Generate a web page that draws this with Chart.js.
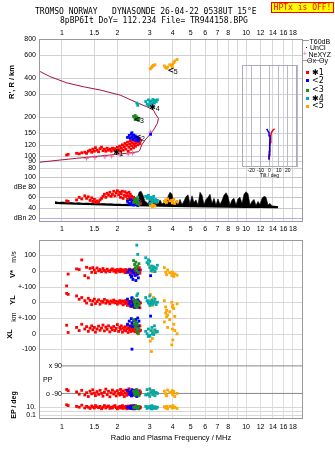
<!DOCTYPE html>
<html>
<head>
<meta charset="utf-8">
<title>Tromso dynasonde ionogram</title>
<script src="https://cdn.jsdelivr.net/npm/chart.js@4.4.1/dist/chart.umd.min.js"></script>
<style>
  body { margin: 0; background: #fff; }
  #wrap { position: relative; width: 335px; height: 451px; overflow: hidden; background: #fff;
          font-family: "Liberation Sans", Arial, sans-serif; color: #000; }
  #wrap canvas { position: absolute; }
  .t { position: absolute; white-space: pre; line-height: 1; font-size: 7px; }
  .mono { font-family: "DejaVu Sans Mono", monospace; font-size: 8px; }
  .rot { transform: translate(-50%, -50%) rotate(-90deg); }
  .b { font-weight: bold; }
  .lg { font-size: 8px; font-family: "DejaVu Sans", sans-serif; }
  .sq { position: absolute; width: 3px; height: 3px; }
  .ln { position: absolute; height: 1px; }
  #hptx { position: absolute; left: 271px; top: 2px; width: 61px; height: 9px; border: 1px solid #f00;
          background: #ff0; color: #f00; font-family: "DejaVu Sans Mono", monospace; font-size: 8px;
          line-height: 9px; text-align: center; }
</style>
</head>
<body>
<div id="wrap">
  <canvas id="top" width="335" height="236" style="left:0;top:0"></canvas>
  <canvas id="tilt" width="71" height="120" style="left:232px;top:60px"></canvas>
  <canvas id="low" width="335" height="215" style="left:0;top:236px"></canvas>

  <div class="t mono" style="left:35px;top:8px">TROMSO NORWAY   DYNASONDE 26-04-22 0538UT 15°E</div>
  <div class="t mono" style="left:60px;top:16.5px">8pBP6It DoY= 112.234 File= TR944158.BPG</div>
  <div id="hptx">HPTx is OFF!</div>

  <div class="t b rot" style="left:12px;top:82px;font-size:7.5px">R', R / km</div>

  <!-- legend -->
  <div class="ln" style="left:303px;top:40px;width:6px;background:#999"></div>
  <div class="t" style="left:309.5px;top:37.5px">T60dB</div>
  <div class="sq" style="left:306px;top:47px;width:1px;height:1px;background:#000"></div>
  <div class="t" style="left:310px;top:44px">UnCl</div>
  <div class="t" style="left:302.5px;top:50px;color:#ff60a0;font-size:8px">+</div>
  <div class="t" style="left:308.5px;top:50.5px">NeXYZ</div>
  <div class="ln" style="left:303px;top:60px;width:4px;background:#f08080"></div>
  <div class="t" style="left:307px;top:57px">Θx</div>
  <div class="ln" style="left:315px;top:60px;width:4px;background:#8080f0"></div>
  <div class="t" style="left:319px;top:57px">Θy</div>
  <div class="sq" style="left:306px;top:71px;background:#f00"></div>
  <div class="t lg" style="left:312px;top:68.5px">✱1</div>
  <div class="sq" style="left:306px;top:79px;background:#00f"></div>
  <div class="t lg" style="left:312px;top:77px">&lt;2</div>
  <div class="sq" style="left:306px;top:88.5px;background:#1e8c1e"></div>
  <div class="t lg" style="left:312px;top:86px">&lt;3</div>
  <div class="sq" style="left:306px;top:97px;background:#00aaaa"></div>
  <div class="t lg" style="left:312px;top:94.5px">✱4</div>
  <div class="sq" style="left:306px;top:104.5px;background:#ffa500"></div>
  <div class="t lg" style="left:312px;top:102px">&lt;5</div>

  <!-- lower panel titles -->
  <div class="t rot" style="left:13px;top:257px">m/s</div>
  <div class="t b rot" style="left:13px;top:274px;font-size:7.5px">V*</div>
  <div class="t b rot" style="left:13px;top:300px;font-size:7.5px">YL</div>
  <div class="t rot" style="left:13px;top:317px">km</div>
  <div class="t b rot" style="left:10px;top:334px;font-size:7.5px">XL</div>
  <div class="t b rot" style="left:13px;top:405px">EP / deg</div>
  <div class="t" style="right:273px;top:361.6px">x 90</div>
  <div class="t" style="left:43px;top:375.6px">PP</div>
  <div class="t" style="right:273px;top:389.6px">o -90</div>
</div>

<script>
// frequency axis (MHz)
const fMin = 0.75, fMax = 20.4;
const freqTicks = [1, 1.5, 2, 3, 4, 5, 6, 7, 8, 9, 10, 12, 14, 16, 18];

// virtual height axis (km) and amplitude axis (dB)
const rTicks = [80, 90, 100, 120, 150, 200, 300, 400, 600, 800];
const dbTicks = [20, 40, 60, 80, 100];
const dbTickText = ['dBn 20', '40', '60', 'dBe 80', '100'];

// lower panel ticks
const vTicks = [-100, 0, 100], vTickText = ['+-100', '0', '100'];
const ylTicks = [-100, 0], ylTickText = ['+-100', '0'];
const xlTicks = [-100, 0], xlTickText = ['-100', '0'];
const epTicks = [0.1, 5, 10], epTickText = ['0.1', '', '10.'];
const ppLevels = [90, -90];
const tiltTicks = [-30, -20, -10, 0, 10, 20, 30];

// echo 1 (red)
const f1 = [
  1.06, 1.08, 1.20, 1.24, 1.28, 1.33, 1.36, 1.39, 1.42, 1.45,
  1.47, 1.50, 1.52, 1.55, 1.58, 1.61, 1.64, 1.67, 1.70, 1.73,
  1.76, 1.79, 1.82, 1.85, 1.88, 1.91, 1.94, 1.97, 2.00, 2.03,
  2.06, 2.08, 2.10, 2.13, 2.15, 2.18, 2.20, 2.22, 2.25, 2.27,
  2.29, 2.31, 2.33, 2.35, 2.37, 2.39, 2.41, 2.43, 2.45, 2.47,
  2.49, 2.51, 2.53, 2.55, 2.57, 2.59, 2.61, 2.63, 2.65, 2.67];
const h1 = [
  101, 102, 104, 103, 105, 106, 104, 108, 110, 106,
  112, 108, 115, 110, 107, 113, 116, 109, 112, 108,
  114, 110, 112, 108, 114, 110, 113, 109, 116, 111,
  118, 108, 114, 121, 110, 117, 124, 112, 120, 127,
  108, 116, 123, 130, 112, 119, 126, 133, 115, 122,
  129, 118, 125, 132, 138, 121, 128, 135, 124, 131];
const amp1 = [
  53, 52, 55, 60, 57, 63, 58, 61, 54, 59,
  52, 56, 50, 53, 51, 55, 58, 62, 66, 60,
  68, 64, 70, 62, 66, 72, 63, 69, 73, 65,
  70, 60, 67, 72, 58, 64, 71, 62, 68, 56,
  63, 70, 60, 66, 55, 62, 58, 52, 60, 55,
  50, 57, 53, 49, 56, 51, 54, 50, 52, 48];
const vs1 = [
  -96, -21, 12, 8, 69, -31, 22, -45, 15, -10,
  20, 5, -12, 18, 0, 8, -6, 14, 2, -8,
  10, 0, -5, 6, 12, -3, 4, -10, 8, 0,
  -6, 10, 2, -4, 6, 0, -12, 8, 2, -6,
  4, -2, 10, -8, 0, 6, -14, -4, 2, 8,
  -20, -10, 4, -25, 0, 14, -8, 20, -15, 5];
const yl1 = [
  56, 50, 40, 19, 30, 10, -5, 25, 12, -15,
  8, 20, -8, 4, 15, -12, 6, 0, 18, -6,
  10, 2, -10, 8, 0, 14, -4, 6, -12, 2,
  10, -6, 0, 8, -16, 4, -8, 12, -2, -20,
  6, -10, 0, -24, 4, -14, 8, -28, -6, 2,
  -18, 10, -30, -8, 0, -22, 6, -12, -35, -4];
const xl1 = [
  54, 8, 40, 20, 60, 30, 45, 15, 35, 50,
  25, 40, 10, 30, 48, 22, 36, 55, 18, 42,
  28, 50, 12, 38, 25, 46, 20, 34, 58, 15,
  40, 28, 50, 10, 36, 24, 44, 18, 32, 52,
  8, 38, 26, 46, 14, 34, 56, 20, 40, 30,
  12, 48, 24, 36, 6, 44, 28, 16, 50, 22];
const pp1 = [
  -64, -72, -80, -95, -70, -100, -85, -110, -75, -92,
  -66, -88, -104, -78, -96, -70, -90, -108, -82, -62,
  -98, -76, -112, -86, -68, -94, -80, -106, -72, -90,
  -100, -64, -84, -96, -74, -110, -88, -68, -102, -80,
  -92, -60, -86, -98, -74, -106, -82, -94, -70, -100,
  -88, -76, -104, -66, -92, -84, -98, -72, -90, -80];
const ep1 = [
  13, 12, 11, 10, 12.5, 9, 11, 10, 8.5, 11.5,
  10, 9, 12, 10.5, 9.5, 11, 8, 10, 12, 9,
  10.5, 11.5, 8.5, 10, 9, 11, 12, 9.5, 8, 10,
  11, 9, 10.5, 12, 8.5, 10, 9.5, 11, 8, 10,
  11.5, 9, 10, 8.5, 12, 9.5, 10.5, 8, 11, 9,
  10, 12, 8.5, 10, 9.5, 11, 8, 10.5, 9, 10];

// echo 2 (blue)
const f2 = [2.27, 2.32, 2.35, 2.38, 2.40, 2.43, 2.45, 2.48, 2.50, 2.52, 2.55, 2.58, 2.60, 2.62, 2.40, 3.03];
const h2 = [138, 143, 136, 147, 140, 133, 144, 137, 142, 131, 139, 134, 130, 136, 150, 146];
const amp2 = [52, 48, 55, 46, 50, 53, 45, 49, 56, 47, 51, 44, 48, 52, 46, 46];
const vs2 = [-10, 5, -25, -40, 0, -55, -15, 8, -30, -62, -5, -20, -45, 2, -35, -31];
const yl2 = [20, -10, 5, -25, 29, -15, 0, -33, 10, -5, -20, 15, -30, 0, 24, -12];
const xl2 = [60, 80, 50, 96, 70, 45, 85, 55, 75, 90, 65, 100, 50, 80, -98, 112];
const pp2 = [-70, -95, -80, -105, -65, -88, -100, -75, -92, -68, -110, -85, -78, -96, -82, -90];
const ep2 = [10, 9, 11, 8.5, 10.5, 9.5, 12, 8, 10, 11, 9, 10.5, 8.5, 10, 9.5, 10];

// echo 3 (green)
const f3 = [2.45, 2.48, 2.50, 2.52, 2.55, 2.57, 2.60, 2.62, 2.50];
const h3 = [201, 198, 204, 195, 199, 192, 188, 194, 190];
const amp3 = [50, 54, 57, 52, 48, 55, 50, 46, 53];
const vs3 = [65, 40, 20, 55, 0, 30, -10, 45, 10];
const yl3 = [19, 0, -15, 10, -33, 5, -20, -5, -25];
const xl3 = [90, 60, 40, 75, 15, 55, 0, 30, 70];
const pp3 = [-75, -90, -100, -82, -70, -95, -85, -105, -88];
const ep3 = [10, 9, 11, 10.5, 9.5, 10, 8.5, 11, 10];

// echo 4 (cyan)
const f4 = [2.55, 2.58, 2.85, 2.90, 2.95, 3.00, 3.05, 3.08, 3.12, 3.15, 3.20, 3.25, 3.30, 3.00, 2.95, 3.10, 3.18];
const h4 = [255, 245, 262, 250, 270, 258, 265, 252, 272, 260, 268, 262, 270, 246, 244, 240, 255];
const amp4 = [55, 60, 62, 58, 64, 56, 60, 52, 58, 62, 55, 50, 54, 48, 60, 57, 52];
const vs4 = [163, 104, 83, 52, 41, 20, 0, 30, 10, 25, -5, 15, 35, 60, 70, 5, 20];
const yl4 = [42, 54, 30, 10, -5, -20, 0, 15, -10, 5, 20, -15, 0, 40, 8, -12, 2];
const xl4 = [58, 30, 15, 0, -17, -10, 20, 40, 5, -5, 25, 10, 14, -15, 30, 0, 50];
const pp4 = [-70, -80, -100, -65, -92, -110, -78, -88, -96, -72, -105, -84, -90, -60, -98, -76, -86];
const ep4 = [10, 9, 11, 8.5, 10.5, 9.5, 8, 12, 10, 9, 10.5, 8.5, 10, 11, 9.5, 8, 10];

// echo 5 (orange)
const f5 = [3.02, 3.06, 3.10, 3.14, 3.20, 3.60, 3.66, 3.70, 3.75, 3.95, 4.00, 4.05, 4.10, 4.22, 3.85, 3.98];
const h5 = [470, 480, 490, 500, 505, 495, 480, 475, 485, 500, 510, 525, 540, 555, 505, 480];
const amp5 = [44, 46, 42, 45, 43, 52, 55, 50, 57, 54, 50, 56, 48, 52, 53, 49];
const vs5 = [30, 10, -5, 20, 0, 20, -10, -25, 5, -30, -15, -36, -20, -28, -12, -8];
const yl5 = [50, 10, -20, 30, -5, 10, -30, -52, -81, 0, -20, -40, -90, -10, -60, -30];
const xl5 = [-47, -113, -30, 20, 10, 75, 131, 108, 40, -71, -40, 60, 20, 0, 90, 30];
const pp5 = [-80, -95, -70, -100, -88, -75, -92, -105, -68, -85, -98, -78, -110, -90, -82, -72];
const ep5 = [10, 9, 11, 10, 8.5, 10.5, 9, 11, 8, 10, 12, 9.5, 10, 8.5, 11, 9];

// model profile (plasma frequency vs real height)
const profF = [0.75, 0.975, 1.20, 1.48, 1.82, 2.25, 2.60, 2.65, 2.71, 2.83, 3.01, 3.14, 3.30, 3.34, 3.22, 3.14, 2.89, 2.60, 2.07, 1.61, 1.31, 1.06, 0.86, 0.75];
const profH = [88.6, 92.2, 95.1, 97.9, 100.9, 104, 107, 110.3, 120.6, 131.9, 145.9, 157.6, 177.8, 194, 210, 225, 239, 254, 294, 322, 341, 366, 409, 452];
const neF = [1.36, 1.51, 1.71, 1.86, 2.07, 2.29, 2.42, 3.03];
const neH = [95, 96.6, 97.9, 98.9, 100.9, 102.8, 104, 152];

// layer markers
const markF = [1.98, 2.59, 2.56, 3.11, 3.90];
const markH = [104, 136, 188, 234.6, 452];
const markSym = ['✱', '<', '<', '✱', '<'];
const markNum = ['1', '2', '3', '4', '5'];

// amplitude of all returns (upper envelope) and noise floor
const noiseF = [
  0.916, 0.963, 1.013, 1.065, 1.119, 1.177, 1.237, 1.300, 1.367, 1.437,
  1.511, 1.588, 1.670, 1.756, 1.846, 1.941, 2.040, 2.145, 2.255, 2.371,
  2.431, 2.493, 2.557, 2.621, 2.688, 2.756, 2.826, 2.898,
  2.934, 3.008, 3.084, 3.162, 3.243, 3.325, 3.409, 3.495, 3.584, 3.675,
  3.768, 3.863, 3.961, 4.061, 4.164, 4.270, 4.378, 4.489, 4.602, 4.719,
  4.838, 4.961, 5.087, 5.216, 5.348, 5.483, 5.623, 5.765, 5.911, 6.061,
  6.214, 6.372, 6.533, 6.699, 6.868, 7.042, 7.221, 7.404, 7.591, 7.783,
  7.980, 8.183, 8.390, 8.602, 8.820, 9.043, 9.272, 9.512, 9.753, 10.0,
  10.25, 10.51, 10.78, 11.05, 11.33, 11.62, 11.91, 12.22, 12.53, 12.84,
  13.17, 13.50, 13.85, 14.20, 14.56, 14.93];
const noiseTop = [
  52, 50, 51, 49, 50, 48.5, 49.5, 48, 49, 48,
  48.5, 47, 48, 47, 47.5, 46.5, 47, 46, 47, 49,
  54, 60, 56, 70, 72, 64, 52, 50,
  48, 56, 46, 53, 58, 46, 55, 47, 50, 45,
  62, 70, 66, 47, 52, 45, 56, 46, 53, 61,
  65, 47, 63, 50, 55, 45, 70, 64, 46, 56,
  60, 66, 48, 58, 45, 57, 46, 54, 64, 69,
  62, 45, 55, 58, 45, 57, 60, 48, 66, 71,
  67, 45, 52, 56, 44, 52, 46, 58, 62, 60,
  45, 48, 43, 43, 42, 41.5];
const noiseBaseF = [0.916, 1.2, 1.5, 2.0, 2.5, 3.0, 4.0, 5.0, 6.5, 8.0, 10.0, 12.0, 14.93];
const noiseBase = [49, 47.5, 46.5, 45, 44.5, 44, 43, 42.5, 42, 41.5, 41, 41, 40.5];

// tilt inset
const tiltH = [93, 100, 108, 117, 126, 135, 142, 150, 156, 161];
const tiltX = [-0.8, -0.6, -0.3, 0.2, 0.8, 1.3, 1.5, 2.0, 3.5, 5.5];
const tiltY = [-0.6, -0.3, 0.0, 0.2, 0.5, 0.6, 0.4, -0.5, -2.0, -3.0];

const layers = [
  { f: f1, h: h1, amp: amp1, vs: vs1, yl: yl1, xl: xl1, pp: pp1, ep: ep1, color: '#ff0000', order: 4 },
  { f: f2, h: h2, amp: amp2, vs: vs2, yl: yl2, xl: xl2, pp: pp2, ep: ep2, color: '#0000ff', order: 3 },
  { f: f3, h: h3, amp: amp3, vs: vs3, yl: yl3, xl: xl3, pp: pp3, ep: ep3, color: '#1e8c1e', order: 2 },
  { f: f4, h: h4, amp: amp4, vs: vs4, yl: yl4, xl: xl4, pp: pp4, ep: ep4, color: '#00aaaa', order: 2 },
  { f: f5, h: h5, amp: amp5, vs: vs5, yl: yl5, xl: xl5, pp: pp5, ep: ep5, color: '#ffa500', order: 2 }
];

const FAM = '"Liberation Sans", Arial, sans-serif';
const font7 = { family: FAM, size: 7 };

function pts(xs, ys) { return xs.map((x, i) => ({ x: x, y: ys[i] })); }
function fixTicks(vals) { return s => { s.ticks = vals.map(v => ({ value: v })); }; }

function dots(xs, ys, color, yAxisID, order) {
  return { data: pts(xs, ys), yAxisID: yAxisID, showLine: false, pointStyle: 'rect', pointRadius: 2,
           pointBorderWidth: 0, pointBackgroundColor: color, borderColor: color, order: order };
}

function hiddenY(type, min, max) {
  return { type: type, axis: 'y', position: 'left', display: false, min: min, max: max };
}

function xScale(position, height, pad, showNine, grid) {
  return {
    type: 'logarithmic', axis: 'x', position: position, min: fMin, max: fMax,
    afterBuildTicks: fixTicks(freqTicks),
    afterFit: s => { s.height = height; },
    ticks: { callback: v => (v === 9 && !showNine) ? '' : String(v), font: font7, color: '#000',
             padding: pad, autoSkip: false, maxRotation: 0, minRotation: 0 },
    grid: grid ? { color: grid, drawTicks: false } : { display: false, drawTicks: false },
    border: { display: false }
  };
}

// y gridlines and tick labels, drawn through each (hidden) y scale
function yTicksPlugin(axes) {
  return {
    id: 'yticks',
    beforeDatasetsDraw(chart) {
      const a = chart.chartArea, c = chart.ctx;
      c.save();
      c.font = '7px ' + FAM;
      c.textAlign = 'right';
      c.textBaseline = 'middle';
      c.fillStyle = '#000';
      c.lineWidth = 1;
      axes.forEach(ax => {
        const s = chart.scales[ax.id];
        ax.vals.forEach((v, i) => {
          const py = Math.round(s.getPixelForValue(v)) + 0.5;
          c.strokeStyle = (ax.blue === v) ? '#b0b0e8' : ax.grid;
          c.beginPath();
          c.moveTo(a.left, py);
          c.lineTo(a.right, py);
          c.stroke();
          if (ax.txt[i]) c.fillText(ax.txt[i], a.left - 3, py);
        });
      });
      c.restore();
    }
  };
}

const framePlugin = {
  id: 'frame',
  afterDatasetsDraw(chart, args, opts) {
    const a = chart.chartArea, c = chart.ctx;
    c.save();
    c.strokeStyle = opts.color || '#999';
    c.lineWidth = 1;
    c.strokeRect(a.left + 0.5, a.top + 0.5, a.right - a.left - 1, a.bottom - a.top - 1);
    c.restore();
  }
};

const markPlugin = {
  id: 'marks',
  afterDatasetsDraw(chart) {
    const xs = chart.scales.x, ys = chart.scales.yr, c = chart.ctx;
    c.save();
    c.fillStyle = '#000';
    c.textBaseline = 'middle';
    markF.forEach((f, i) => {
      const px = xs.getPixelForValue(f), py = ys.getPixelForValue(markH[i]);
      c.font = 'bold 8px "DejaVu Sans"';
      c.textAlign = 'center';
      c.fillText(markSym[i], px, py);
      c.font = '7px ' + FAM;
      c.textAlign = 'left';
      c.fillText(markNum[i], px + 3, py + 1);
    });
    c.restore();
  }
};

// ---------- upper chart: virtual height + amplitude ----------
const topSets = [];
layers.forEach(L => {
  topSets.push(dots(L.f, L.h, L.color, 'yr', L.order));
  topSets.push(dots(L.f, L.amp, L.color, 'ydb', L.order));
});
topSets.push({ data: pts(neF, neH), yAxisID: 'yr', showLine: false, pointStyle: 'cross', pointRadius: 2.2,
               pointBorderColor: '#ff60a0', pointBorderWidth: 1, order: 5 });
topSets.push({ data: pts(profF, profH), yAxisID: 'yr', borderColor: '#a3143f', borderWidth: 1,
               pointRadius: 0, tension: 0, order: 6 });
topSets.push({ data: pts(noiseBaseF, noiseBase), yAxisID: 'ydb', borderColor: '#000', borderWidth: 2,
               pointRadius: 0, tension: 0, order: 8 });
topSets.push({ data: pts(noiseF, noiseTop), yAxisID: 'ydb', borderColor: '#000', borderWidth: 0.6,
               backgroundColor: '#000', fill: '-1', pointRadius: 0, tension: 0, order: 9 });

new Chart(document.getElementById('top'), {
  type: 'line',
  data: { datasets: topSets },
  options: {
    responsive: false, animation: false, events: [],
    layout: { padding: { left: 39, right: 32, top: 0, bottom: 0 } },
    plugins: { legend: { display: false }, tooltip: { enabled: false }, frame: { color: '#999' } },
    scales: {
      x: xScale('top', 39, 2, false, null),
      x2: xScale('bottom', 14, 3.3, true, '#d6d6d6'),
      yr: hiddenY('logarithmic', 30.52, 800),
      ydb: hiddenY('linear', 11.55, 371.3)
    }
  },
  plugins: [
    yTicksPlugin([
      { id: 'yr', vals: rTicks, txt: rTicks.map(String), grid: '#d0d0d0' },
      { id: 'ydb', vals: dbTicks, txt: dbTickText, grid: '#c8c8c8', blue: 20 }
    ]),
    framePlugin, markPlugin
  ]
});

// ---------- tilt inset ----------
new Chart(document.getElementById('tilt'), {
  type: 'line',
  data: {
    datasets: [
      { data: pts(tiltY, tiltH), borderColor: '#0000ff', borderWidth: 1.5, pointRadius: 0, tension: 0, order: 1 },
      { data: pts(tiltX, tiltH), borderColor: '#ff0000', borderWidth: 1.5, pointRadius: 0, tension: 0, order: 2 }
    ]
  },
  options: {
    responsive: false, animation: false, events: [],
    layout: { padding: { left: 10, right: 6, top: 5, bottom: 0 } },
    plugins: { legend: { display: false }, tooltip: { enabled: false }, frame: { color: '#aab' } },
    scales: {
      x: {
        type: 'linear', position: 'bottom', min: -30, max: 30,
        afterBuildTicks: fixTicks(tiltTicks),
        afterFit: s => { s.height = 13; },
        ticks: { callback: v => Math.abs(v) === 30 ? '' : String(v), font: { family: FAM, size: 5, lineHeight: 1 },
                 color: '#000', padding: 1, autoSkip: false, maxRotation: 0 },
        grid: { color: '#b8b8c8', drawTicks: false },
        border: { display: false },
        title: { display: true, text: 'Tilt / deg', font: { family: FAM, size: 5, lineHeight: 1 }, color: '#000',
                 padding: { top: 0, bottom: 2 } }
      },
      y: hiddenY('logarithmic', 81.45, 502.8)
    }
  },
  plugins: [framePlugin]
});

// ---------- lower chart: drift, location, polarization ----------
const lowSets = [];
layers.forEach(L => {
  lowSets.push(dots(L.f, L.vs, L.color, 'yv', L.order));
  lowSets.push(dots(L.f, L.yl, L.color, 'yyl', L.order));
  lowSets.push(dots(L.f, L.xl, L.color, 'yxl', L.order));
  lowSets.push(dots(L.f, L.pp, L.color, 'ypp', L.order));
  lowSets.push(dots(L.f, L.ep, L.color, 'yep', L.order));
});
ppLevels.forEach(p => {
  lowSets.push({ data: [{ x: 1, y: p }, { x: fMax, y: p }], yAxisID: 'ypp', borderColor: '#888',
                 borderWidth: 1, pointRadius: 0, order: 9 });
});

const lowX = xScale('bottom', 32, 4, false, '#dedede');
lowX.title = { display: true, text: 'Radio and Plasma Frequency / MHz', font: { family: FAM, size: 7.5 },
               color: '#000', padding: { top: 0, bottom: 8.5 } };

new Chart(document.getElementById('low'), {
  type: 'line',
  data: { datasets: lowSets },
  options: {
    responsive: false, animation: false, events: [],
    layout: { padding: { left: 39, right: 32, top: 1, bottom: 0 } },
    plugins: { legend: { display: false }, tooltip: { enabled: false }, frame: { color: '#999' } },
    scales: {
      x: lowX,
      yv: hiddenY('linear', -941.9, 195.6),
      yyl: hiddenY('linear', -741.9, 395.6),
      yxl: hiddenY('linear', -541.9, 595.6),
      ypp: hiddenY('linear', -257.1, 912.9),
      yep: hiddenY('linear', -4.85, 220.4)
    }
  },
  plugins: [
    yTicksPlugin([
      { id: 'yv', vals: vTicks, txt: vTickText, grid: '#d8d8d8' },
      { id: 'yyl', vals: ylTicks, txt: ylTickText, grid: '#d8d8d8' },
      { id: 'yxl', vals: xlTicks, txt: xlTickText, grid: '#d8d8d8' },
      { id: 'yep', vals: epTicks, txt: epTickText, grid: '#d8d8d8' }
    ]),
    framePlugin
  ]
});
</script>
</body>
</html>
